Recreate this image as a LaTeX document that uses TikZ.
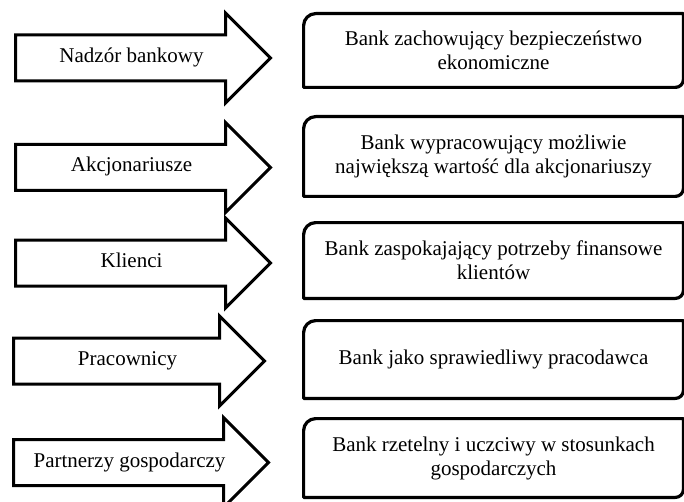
\documentclass[tikz,border=0pt]{standalone}
\usepackage{fontspec}
\setmainfont{Liberation Serif}
\usetikzlibrary{shapes.arrows}

\begin{document}
\begin{tikzpicture}[x=0.5pt,y=-0.5pt,
        group/.style={single arrow, draw, line width=1.5pt, line join=miter, minimum height=127.5pt, single arrow head extend=11pt, inner xsep=2pt, inner ysep=6pt, text height=7pt, text depth=2.5pt, font=\fontsize{10.5}{12}\selectfont},
        bank/.style={minimum width=189.5pt, align=center, inner sep=0pt, font=\fontsize{10.5}{12}\selectfont},
        outline/.style={line width=1.6pt, line join=round}
    ]
        \useasboundingbox (0,0) rectangle (684,502);

        % Stakeholder arrows
        \node[group, anchor=tail] (nadzor) at (14,58) {Nadzór bankowy};
        \node[group, anchor=tail] (akcjonariusze) at (14,167.5) {Akcjonariusze};
        \node[group, anchor=tail] (klienci) at (14,263) {Klienci};
        \node[group, anchor=tail, minimum height=125.5pt] (pracownicy) at (12,361) {Pracownicy};
        \node[group, anchor=tail] (partnerzy) at (12,462.5) {Partnerzy gospodarczy};

        % Bank expectations
        \node[bank, minimum height=36.5pt] (zachowanie) at (493.5,50.5) {Bank zachowujący bezpieczeństwo\\ekonomiczne};
        \node[bank, minimum height=39.5pt] (wartosc) at (493.5,156.5) {Bank wypracowujący możliwie\\największą wartość dla akcjonariuszy};
        \node[bank, minimum height=37.5pt] (potrzeby) at (493.5,260.5) {Bank zaspokajający potrzeby finansowe\\klientów};
        \node[bank, minimum height=38.5pt] (pracodawca) at (493.5,359.5) {Bank jako sprawiedliwy pracodawca};
        \node[bank, minimum height=39pt] (rzetelnosc) at (493.5,458) {Bank rzetelny i uczciwy w stosunkach\\gospodarczych};

        \foreach \b in {zachowanie,wartosc,potrzeby,pracodawca,rzetelnosc}
            \draw[outline] (\b.south west) -- ([yshift=-6pt]\b.north west) arc[start angle=180, end angle=90, radius=6pt] -- (\b.north east) -- ([yshift=4pt]\b.south east) arc[start angle=0, end angle=-90, radius=4pt] -- cycle;
    \end{tikzpicture}
\end{document}
